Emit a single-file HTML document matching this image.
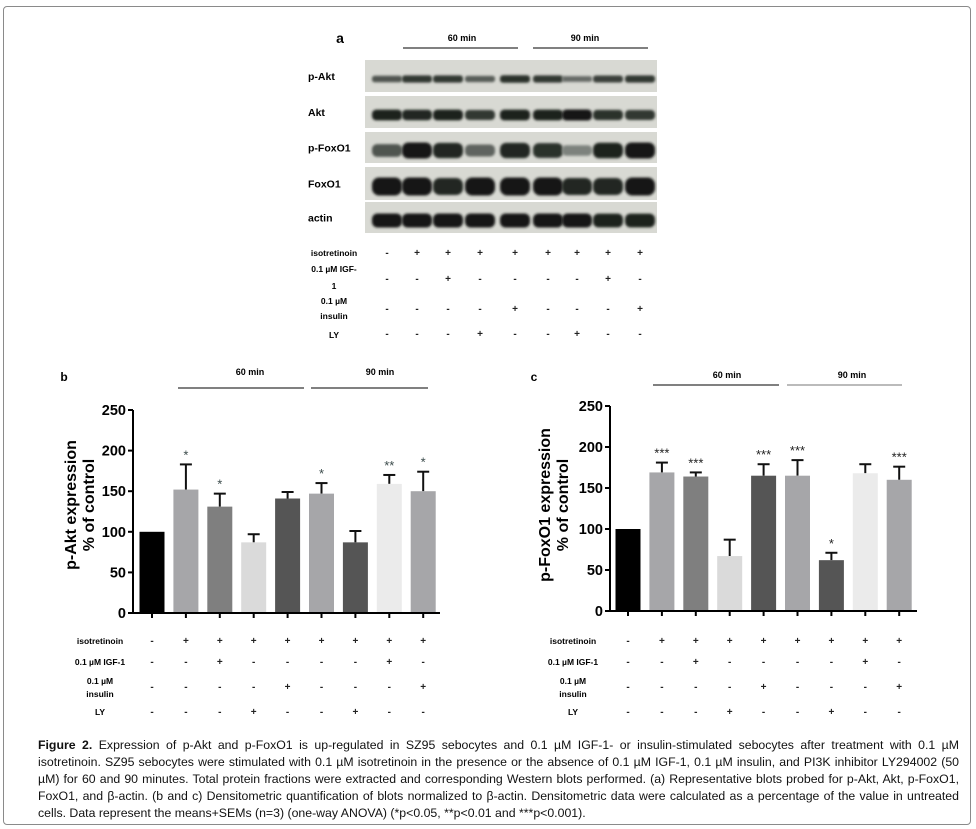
<!DOCTYPE html>
<html><head><meta charset="utf-8">
<style>
body{margin:0;background:#fff;width:976px;height:829px;overflow:hidden;font-family:"Liberation Sans",Arial,sans-serif}
#frame{position:absolute;left:3px;top:6px;width:968px;height:819px;border:1px solid #8a8a8a;border-radius:4px;box-sizing:border-box}
#cap{position:absolute;left:38px;top:737px;width:921px;font-size:12.3px;line-height:17px;color:#111}
#cap div{white-space:nowrap;text-align:justify;text-align-last:justify}
#cap div.last{text-align-last:left}
svg{position:absolute;left:0;top:0}
</style></head><body>
<div id="frame"></div>
<svg id="fig" width="976" height="829">
<defs><filter id="bl" x="-20%" y="-50%" width="140%" height="200%"><feGaussianBlur stdDeviation="1.2"/></filter></defs>
<g id="blots"></g>
<g id="chartB"></g>
<g id="chartC"></g>
</svg>
<div id="cap">
<div><b>Figure 2.</b> Expression of p-Akt and p-FoxO1 is up-regulated in SZ95 sebocytes and 0.1 µM IGF-1- or insulin-stimulated sebocytes after treatment with 0.1 µM</div>
<div>isotretinoin. SZ95 sebocytes were stimulated with 0.1 µM isotretinoin in the presence or the absence of 0.1 µM IGF-1, 0.1 µM insulin, and PI3K inhibitor LY294002 (50</div>
<div>µM) for 60 and 90 minutes. Total protein fractions were extracted and corresponding Western blots performed. (a) Representative blots probed for p-Akt, Akt, p-FoxO1,</div>
<div>FoxO1, and β-actin. (b and c) Densitometric quantification of blots normalized to β-actin. Densitometric data were calculated as a percentage of the value in untreated</div>
<div class="last">cells. Data represent the means+SEMs (n=3) (one-way ANOVA) (*p&lt;0.05, **p&lt;0.01 and ***p&lt;0.001).</div>
</div>
<script>
const NS="http://www.w3.org/2000/svg";
const categories=["control","iso","iso+IGF-1","iso+LY","iso+insulin","iso 90","iso+LY 90","iso+IGF-1 90","iso+insulin 90"];
const aktValues=[100,152,131,87,141,147,87,159,150];
const aktErrors=[0,31,16,10,8,13,14,11,24];
const aktStars=["","*","*","","","*","","**","*"];
const foxValues=[100,169,164,67,165,165,62,168,160];
const foxErrors=[0,12,5,20,14,19,9,11,16];
const foxStars=["","***","***","","***","***","*","","***"];
const yTicks=[0,50,100,150,200,250];
const isoRow=["-","+","+","+","+","+","+","+","+"];
const igfRow=["-","-","+","-","-","-","-","+","-"];
const insRow=["-","-","-","-","+","-","-","-","+"];
const lyRow=["-","-","-","+","-","-","+","-","-"];
const pAktBand=[0.6,0.8,0.8,0.55,0.85,0.8,0.45,0.75,0.8];
const aktBand=[0.95,0.9,0.95,0.8,0.95,0.95,1,0.85,0.8];
const pFoxBand=[0.6,1,0.9,0.5,0.9,0.85,0.3,0.95,1];
const foxBand=[1,1,0.9,1,1,1,0.9,0.9,1];
const actinBand=[1,1,1,1,1,1,1,0.95,0.95];
const colors=["#000","#a6a6a9","#7f7f7f","#dadada","#555","#a6a6a9","#555","#ebebeb","#a6a6a9"];

function el(p,tag,attrs,text){const e=document.createElementNS(NS,tag);for(const k in attrs)e.setAttribute(k,attrs[k]);if(text!==undefined)e.textContent=text;p.appendChild(e);return e;}

const B=document.getElementById('blots');
let t=el(B,'text',{x:340,y:43,'font-size':14,'font-weight':'bold','text-anchor':'middle'},'a');

el(B,'text',{x:462,y:41,'font-size':9,'font-weight':'bold','text-anchor':'middle'},'60 min');
el(B,'line',{x1:403,x2:518,y1:48,y2:48,stroke:'#000','stroke-width':1});
el(B,'text',{x:585,y:41,'font-size':9,'font-weight':'bold','text-anchor':'middle'},'90 min');
el(B,'line',{x1:533,x2:648,y1:48,y2:48,stroke:'#000','stroke-width':1});
const lanes=[387,417,448,480,515,548,577,608,640];
const blotRows=[["p-Akt",60,92,pAktBand,4],["Akt",96,128,aktBand,5.5],["p-FoxO1",132,163,pFoxBand,8],["FoxO1",167,200,foxBand,9],["actin",202,233,actinBand,7]];
blotRows.forEach(r=>{
  const g=el(B,'g',{});
  
  
  el(g,'rect',{x:365,y:r[1],width:292,height:r[2]-r[1],fill:'#d8d9d3'});
  el(g,'text',{x:308,y:(r[1]+r[2])/2+4,'font-size':10.5,'font-weight':'bold'},r[0]);
  const cy=(r[1]+r[2])/2+3;
  r[3].forEach((v,i)=>{
    const sh=Math.round(20+(1-v)*150);
    const h=2*r[4]*(0.5+v*0.5);
    el(g,'rect',{x:lanes[i]-15,y:cy-h/2,width:30,height:h,rx:h/2.5,fill:`rgb(${sh},${sh+5},${sh})`,filter:'url(#bl)'});
  });
});
function signRows(p,xs,ys,fs){
  const rows=[isoRow,igfRow,insRow,lyRow];
  rows.forEach((row,ri)=>row.forEach((s,i)=>{
    const tt=el(p,'text',{x:xs[i],y:ys[ri]+3,'font-size':fs,'font-weight':'bold','text-anchor':'middle',fill:'#222'},s);
    
  }));
}
function rowLabels(p,x,ys,fs){
  const labs=[["isotretinoin",ys[0]],["0.1 µM IGF-1",ys[1]],["0.1 µM",ys[2]-6],["insulin",ys[2]+7],["LY",ys[3]]];
  labs.forEach(l=>{const tt=el(p,'text',{x:x,y:l[1]+3,'font-size':fs,'font-weight':'bold','text-anchor':'middle'},l[0]);});
}
[["isotretinoin",256],["0.1 µM IGF-",272],["1",289],["0.1 µM",304],["insulin",319],["LY",338]].forEach(l=>el(B,'text',{x:334,y:l[1],'font-size':8.5,'font-weight':'bold','text-anchor':'middle'},l[0]));
signRows(B,lanes,[253,279,309,334],10);

function chart(gid,o){
  const G=document.getElementById(gid);
  const y=v=>o.y0-(v/250)*(o.y0-o.y250);
  const x=i=>o.x1+i*o.dx;
  let tt=el(G,'text',{x:o.lx,y:o.ly,'font-size':12,'font-weight':'bold','text-anchor':'middle'},o.letter);
  
  el(G,'text',{x:o.m60[0],y:o.m60[1],'font-size':9,'font-weight':'bold','text-anchor':'middle'},'60 min');
  el(G,'line',{x1:o.l60[0],x2:o.l60[1],y1:o.l60[2],y2:o.l60[2],stroke:'#000'});
  el(G,'text',{x:o.m90[0],y:o.m90[1],'font-size':9,'font-weight':'bold','text-anchor':'middle'},'90 min');
  el(G,'line',{x1:o.l90[0],x2:o.l90[1],y1:o.l90[2],y2:o.l90[2],stroke:o.l90c});
  el(G,'line',{x1:o.ax,x2:o.ax,y1:y(250),y2:y(0)+1,stroke:'#000','stroke-width':2});
  el(G,'line',{x1:o.ax,x2:o.xend,y1:y(0),y2:y(0),stroke:'#000','stroke-width':2});
  yTicks.forEach(v=>{
    el(G,'line',{x1:o.ax-5,x2:o.ax,y1:y(v),y2:y(v),stroke:'#000','stroke-width':2});
    const l=el(G,'text',{x:o.ax-7,y:y(v)+5,'font-size':14.5,'font-weight':'bold','text-anchor':'end'},v);
    
  });
  const tg=el(G,'text',{'font-size':16,'font-weight':'bold','text-anchor':'middle',transform:`translate(${o.tx},${o.ty}) rotate(-90)`});
  
  el(tg,'tspan',{x:0,y:0},o.title);el(tg,'tspan',{x:0,dy:18},'% of control');
  o.vals.forEach((v,i)=>{
    const cx=x(i),top=y(v+o.errs[i]);
    if(o.errs[i]>0){
      el(G,'line',{x1:cx,x2:cx,y1:top,y2:y(v),stroke:'#111','stroke-width':2});
      el(G,'line',{x1:cx-6,x2:cx+6,y1:top,y2:top,stroke:'#111','stroke-width':2});
    }
    const b=el(G,'rect',{x:cx-12.5,y:y(v),width:25,height:y(0)-y(v)-1,fill:colors[i]});
    
    el(G,'line',{x1:cx,x2:cx,y1:y(0),y2:y(0)+5,stroke:'#000','stroke-width':2});
    if(o.stars[i]){const s=el(G,'text',{x:cx,y:top-5,'font-size':13,'text-anchor':'middle',fill:o.starc},o.stars[i]);}
  });
  const xs=o.vals.map((v,i)=>x(i));
  rowLabels(G,o.rlx,o.rows,8.5);
  signRows(G,xs,o.rows,10);
}
chart('chartB',{x1:152,dx:33.9,y0:613,y250:410,ax:133,xend:440,vals:aktValues,errs:aktErrors,stars:aktStars,starc:'#3a4a4a',
  letter:'b',lx:64,ly:381,m60:[250,375],l60:[178,304,388],m90:[380,375],l90:[311,428,388],l90c:'#000',
  tx:76,ty:505,title:'p-Akt expression',rlx:100,rows:[641,662,687,712]});
chart('chartC',{x1:628,dx:33.9,y0:611,y250:406,ax:610,xend:917,vals:foxValues,errs:foxErrors,stars:foxStars,starc:'#222',
  letter:'c',lx:534,ly:381,m60:[727,378],l60:[653,779,385],m90:[852,378],l90:[787,902,385],l90c:'#777',
  tx:550,ty:505,title:'p-FoxO1 expression',rlx:573,rows:[641,662,687,712]});
</script>
</body></html>
